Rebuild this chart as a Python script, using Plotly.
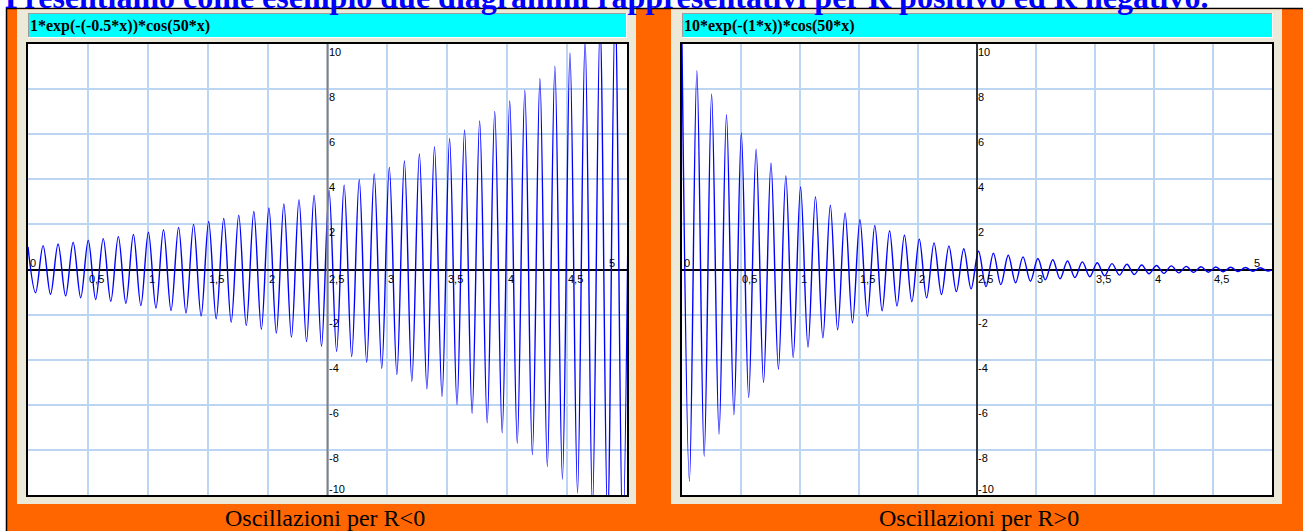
import plotly.graph_objects as go

W, H = 1303, 531

# ---------------- data ----------------
peak_x = [0.000, 0.063, 0.126, 0.188, 0.251, 0.314, 0.377, 0.440, 0.503, 0.565,
          0.628, 0.691, 0.754, 0.817, 0.880, 0.942, 1.005, 1.068, 1.131, 1.194,
          1.257, 1.319, 1.382, 1.445, 1.508, 1.571, 1.634, 1.696, 1.759, 1.822,
          1.885, 1.948, 2.011, 2.073, 2.136, 2.199, 2.262, 2.325, 2.388, 2.450,
          2.513, 2.576, 2.639, 2.702, 2.765, 2.827, 2.890, 2.953, 3.016, 3.079,
          3.142, 3.204, 3.267, 3.330, 3.393, 3.456, 3.519, 3.581, 3.644, 3.707,
          3.770, 3.833, 3.896, 3.958, 4.021, 4.084, 4.147, 4.210, 4.273, 4.335,
          4.398, 4.461, 4.524, 4.587, 4.650, 4.712, 4.775, 4.838, 4.901, 4.964,
          5.027]

left_peaks = [1.00, -1.03, 1.06, -1.10, 1.13, -1.17, 1.21, -1.25, 1.29, -1.33,
              1.37, -1.41, 1.46, -1.50, 1.55, -1.60, 1.65, -1.71, 1.76, -1.82,
              1.87, -1.93, 2.00, -2.06, 2.13, -2.19, 2.26, -2.34, 2.41, -2.49,
              2.57, -2.65, 2.73, -2.82, 2.91, -3.00, 3.10, -3.20, 3.30, -3.40,
              3.51, -3.63, 3.74, -3.86, 3.98, -4.11, 4.24, -4.38, 4.52, -4.66,
              4.81, -4.96, 5.12, -5.29, 5.45, -5.63, 5.81, -5.99, 6.19, -6.38,
              6.59, -6.80, 7.01, -7.24, 7.47, -7.71, 7.95, -8.21, 8.47, -8.74,
              9.02, -9.30, 9.60, -9.91, 10.22, -10.55, 10.89, -11.23, 11.59, -11.96,
              12.35]

right_peaks = [10.00, -9.39, 8.82, -8.28, 7.78, -7.30, 6.86, -6.44, 6.05, -5.68,
               5.34, -5.01, 4.71, -4.42, 4.15, -3.90, 3.66, -3.44, 3.23, -3.03,
               2.85, -2.67, 2.51, -2.36, 2.21, -2.08, 1.95, -1.83, 1.72, -1.62,
               1.52, -1.43, 1.34, -1.26, 1.18, -1.11, 1.04, -0.98, 0.92, -0.86,
               0.81, -0.76, 0.72, -0.67, 0.63, -0.59, 0.56, -0.52, 0.49, -0.46,
               0.43, -0.41, 0.38, -0.36, 0.34, -0.32, 0.30, -0.28, 0.26, -0.25,
               0.23, -0.22, 0.20, -0.19, 0.18, -0.17, 0.16, -0.15, 0.14, -0.13,
               0.12, -0.12, 0.11, -0.10, 0.10, -0.09, 0.09, -0.08, 0.08, -0.07,
               0.07]

x_tick_vals = [0.5, 1, 1.5, 2, 2.5, 3, 3.5, 4, 4.5]
x_tick_text = ["0,5", "1", "1,5", "2", "2,5", "3", "3,5", "4", "4,5"]
y_tick_vals = [10, 8, 6, 4, 2, -2, -4, -6, -8, -10]
y_tick_text = ["10", "8", "6", "4", "2", "-2", "-4", "-6", "-8", "-10"]
x_origin_value, x_origin_label = 0, "0"
x_end_value, x_end_label = 5, "5"
y_axis_at = 2.5

titles = ["1*exp(-(-0.5*x))*cos(50*x)", "10*exp(-(1*x))*cos(50*x)"]
captions = ["Oscillazioni per R<0", "Oscillazioni per R>0"]
heading = "Presentiamo come esempio due diagrammi rappresentativi per R positivo ed R negativo."

# ---------------- styling / geometry ----------------
def px(x):
    return x / W

def py(y):
    return 1 - y / H

ORANGE = "#FF6600"
BEIGE = "#ECE9D8"
CYAN = "#00FFFF"
GRID = "#BCD5F2"
BLUE = "#0000FF"

panels = [
    dict(frame=(17, 636), plot=(28, 627), bar=(28, 626), cap_x=325,
         ax="x", ay="y", axis_color="#808080", axis_w=2, series=left_peaks),
    dict(frame=(671, 1282), plot=(682, 1272), bar=(682, 1272), cap_x=979,
         ax="x2", ay="y2", axis_color="#000000", axis_w=1.5, series=right_peaks),
]
plot_top, plot_bot = 44, 495

fig = go.Figure()

shapes = []
annotations = []

# orange container
shapes.append(dict(type="rect", xref="paper", yref="paper", layer="below",
                   x0=px(6.5), x1=px(1320), y0=py(560), y1=py(8.5),
                   fillcolor=ORANGE, line=dict(color="#000000", width=1.5)))

for i, p in enumerate(panels):
    fx0, fx1 = p["frame"]
    shapes.append(dict(type="rect", xref="paper", yref="paper", layer="below",
                       x0=px(fx0), x1=px(fx1), y0=py(504), y1=py(9.3),
                       fillcolor=BEIGE, line=dict(width=0)))
    bx0, bx1 = p["bar"]
    shapes.append(dict(type="rect", xref="paper", yref="paper", layer="below",
                       x0=px(bx0), x1=px(bx1), y0=py(37), y1=py(13),
                       fillcolor=CYAN, line=dict(width=0)))
    shapes.append(dict(type="line", xref="paper", yref="paper", layer="below",
                       x0=px(bx0), x1=px(bx1), y0=py(13.5), y1=py(13.5),
                       line=dict(color="#9C9C9C", width=1)))
    shapes.append(dict(type="line", xref="paper", yref="paper", layer="below",
                       x0=px(bx0 + 0.5), x1=px(bx0 + 0.5), y0=py(13), y1=py(37),
                       line=dict(color="#9C9C9C", width=1)))
    shapes.append(dict(type="line", xref="paper", yref="paper", layer="below",
                       x0=px(bx0), x1=px(bx1), y0=py(37.5), y1=py(37.5),
                       line=dict(color="#FFFFFF", width=1)))
    shapes.append(dict(type="line", xref="paper", yref="paper", layer="below",
                       x0=px(bx1 + 0.5), x1=px(bx1 + 0.5), y0=py(13), y1=py(38),
                       line=dict(color="#FFFFFF", width=1)))
    # white plot area
    pl0, pl1 = p["plot"]
    shapes.append(dict(type="rect", xref="paper", yref="paper", layer="below",
                       x0=px(pl0), x1=px(pl1), y0=py(plot_bot), y1=py(plot_top),
                       fillcolor="#FFFFFF", line=dict(width=0)))

    # vertical y axis drawn at x = 2.5
    shapes.append(dict(type="line", xref=p["ax"], yref=p["ay"] + " domain", layer="above",
                       x0=y_axis_at, x1=y_axis_at, y0=0, y1=1,
                       line=dict(color=p["axis_color"], width=p["axis_w"])))

    # curve
    fig.add_trace(go.Scatter(x=peak_x, y=p["series"], mode="lines",
                             line=dict(color=BLUE, width=1.4, shape="spline"),
                             xaxis=p["ax"], yaxis=p["ay"], hoverinfo="skip",
                             showlegend=False))

    tick_font = dict(family="Arial, Liberation Sans", size=11, color="#000000")
    for v, t in zip(x_tick_vals, x_tick_text):
        annotations.append(dict(x=v, y=0, xref=p["ax"], yref=p["ay"], text=t,
                                showarrow=False, xanchor="left", yanchor="top",
                                xshift=0, yshift=-2, borderpad=0, font=tick_font))
    annotations.append(dict(x=x_origin_value, y=0, xref=p["ax"], yref=p["ay"],
                            text=x_origin_label, showarrow=False, xanchor="left",
                            yanchor="bottom", xshift=1, yshift=0, borderpad=0, font=tick_font))
    annotations.append(dict(x=x_end_value, y=0, xref=p["ax"], yref=p["ay"],
                            text=x_end_label, showarrow=False, xanchor="right",
                            yanchor="bottom", xshift=-11, yshift=0, borderpad=0, font=tick_font))
    for v, t in zip(y_tick_vals, y_tick_text):
        if v == y_tick_vals[-1]:
            anc, ysh = "bottom", -1
        else:
            anc, ysh = "top", -1
        annotations.append(dict(x=y_axis_at, y=v, xref=p["ax"], yref=p["ay"], text=t,
                                showarrow=False, xanchor="left", yanchor=anc,
                                xshift=0, yshift=ysh, borderpad=0, font=tick_font))

    # title inside cyan bar
    annotations.append(dict(x=px(bx0 + 1), y=py(25.6), xref="paper", yref="paper",
                            text="<b>" + titles[i] + "</b>", showarrow=False,
                            xanchor="left", yanchor="middle", borderpad=0,
                            font=dict(family="Times New Roman, Liberation Serif", size=16,
                                      color="#000000")))
    # caption
    annotations.append(dict(x=px(p["cap_x"]), y=py(517.5), xref="paper", yref="paper",
                            text=captions[i].replace("<", "&lt;").replace(">", "&gt;"),
                            showarrow=False, xanchor="center", yanchor="middle",
                            borderpad=0,
                            font=dict(family="Times New Roman, Liberation Serif", size=24,
                                      color="#000000")))

annotations.append(dict(x=px(4), y=py(-2.8), xref="paper", yref="paper",
                        text="<b>" + heading + "</b>", showarrow=False,
                        xanchor="left", yanchor="middle", borderpad=0,
                        font=dict(family="Times New Roman, Liberation Serif", size=32,
                                  color="#0000FF")))

axis_common_x = dict(range=[0, 5], dtick=0.5, tick0=0, showgrid=True, gridcolor=GRID,
                     gridwidth=1.5, zeroline=False, showticklabels=False, ticks="",
                     showline=True, mirror=True, linecolor="#000000", linewidth=1.5,
                     fixedrange=True)
axis_common_y = dict(range=[-10, 10], dtick=2, tick0=0, showgrid=True, gridcolor=GRID,
                     gridwidth=1.5, zeroline=True, zerolinecolor="#000000",
                     zerolinewidth=1.5, showticklabels=False, ticks="",
                     showline=True, mirror=True, linecolor="#000000", linewidth=1.5,
                     fixedrange=True)

ydom = [py(plot_bot), py(plot_top)]
fig.update_layout(
    width=W, height=H,
    margin=dict(l=0, r=0, t=0, b=0),
    paper_bgcolor="#FFFFFF",
    plot_bgcolor="rgba(0,0,0,0)",
    showlegend=False,
    xaxis=dict(domain=[px(panels[0]["plot"][0]), px(panels[0]["plot"][1])], anchor="y",
               **axis_common_x),
    yaxis=dict(domain=ydom, anchor="x", **axis_common_y),
    xaxis2=dict(domain=[px(panels[1]["plot"][0]), px(panels[1]["plot"][1])], anchor="y2",
                **axis_common_x),
    yaxis2=dict(domain=ydom, anchor="x2", **axis_common_y),
    shapes=shapes,
    annotations=annotations,
)

fig.write_html("out.html",
               config={"displayModeBar": False},
               post_script="document.body.style.margin='0px';"
                           "document.body.style.overflow='hidden';")
